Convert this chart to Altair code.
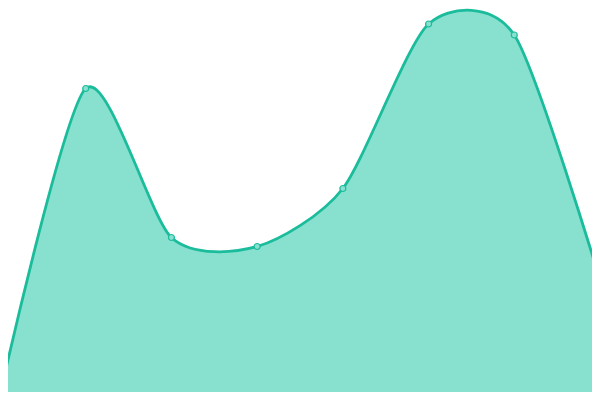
import altair as alt
import pandas as pd

# values measured as height above the bottom edge (400 - pixel y)
idx = [0, 1, 2, 3, 4, 5, 6, 7]
values = [5, 311.5, 162.5, 153.5, 211.5, 376, 365, 120]

df = pd.DataFrame({"i": idx, "v": values})

LINE = "#1abc9c"
FILL = "#88e0cf"

W, H = 584, 384
step = 600 / 7
d0 = 8 / step
x = alt.X("i:Q", axis=None, scale=alt.Scale(domain=[d0, d0 + W / step], nice=False, zero=False))
y = alt.Y("v:Q", axis=None, scale=alt.Scale(domain=[8, 392], nice=False, zero=False))

area = alt.Chart(df).mark_area(
    interpolate="cardinal", tension=0.25, color=FILL, opacity=1, fillOpacity=1,
    line={"color": LINE, "strokeWidth": 2.8, "interpolate": "cardinal", "tension": 0.25}
).encode(x=x, y=y)

pts = alt.Chart(df).mark_point(
    filled=True, fill=FILL, stroke=LINE, strokeWidth=1.2, size=36, opacity=1
).encode(x=x, y=y)

chart = (area + pts).properties(
    width=W, height=H, padding=0, autosize=alt.AutoSizeParams(type="none")
).configure_view(stroke=None)

chart.save("out.html", embed_options={"renderer": "svg", "actions": False})
